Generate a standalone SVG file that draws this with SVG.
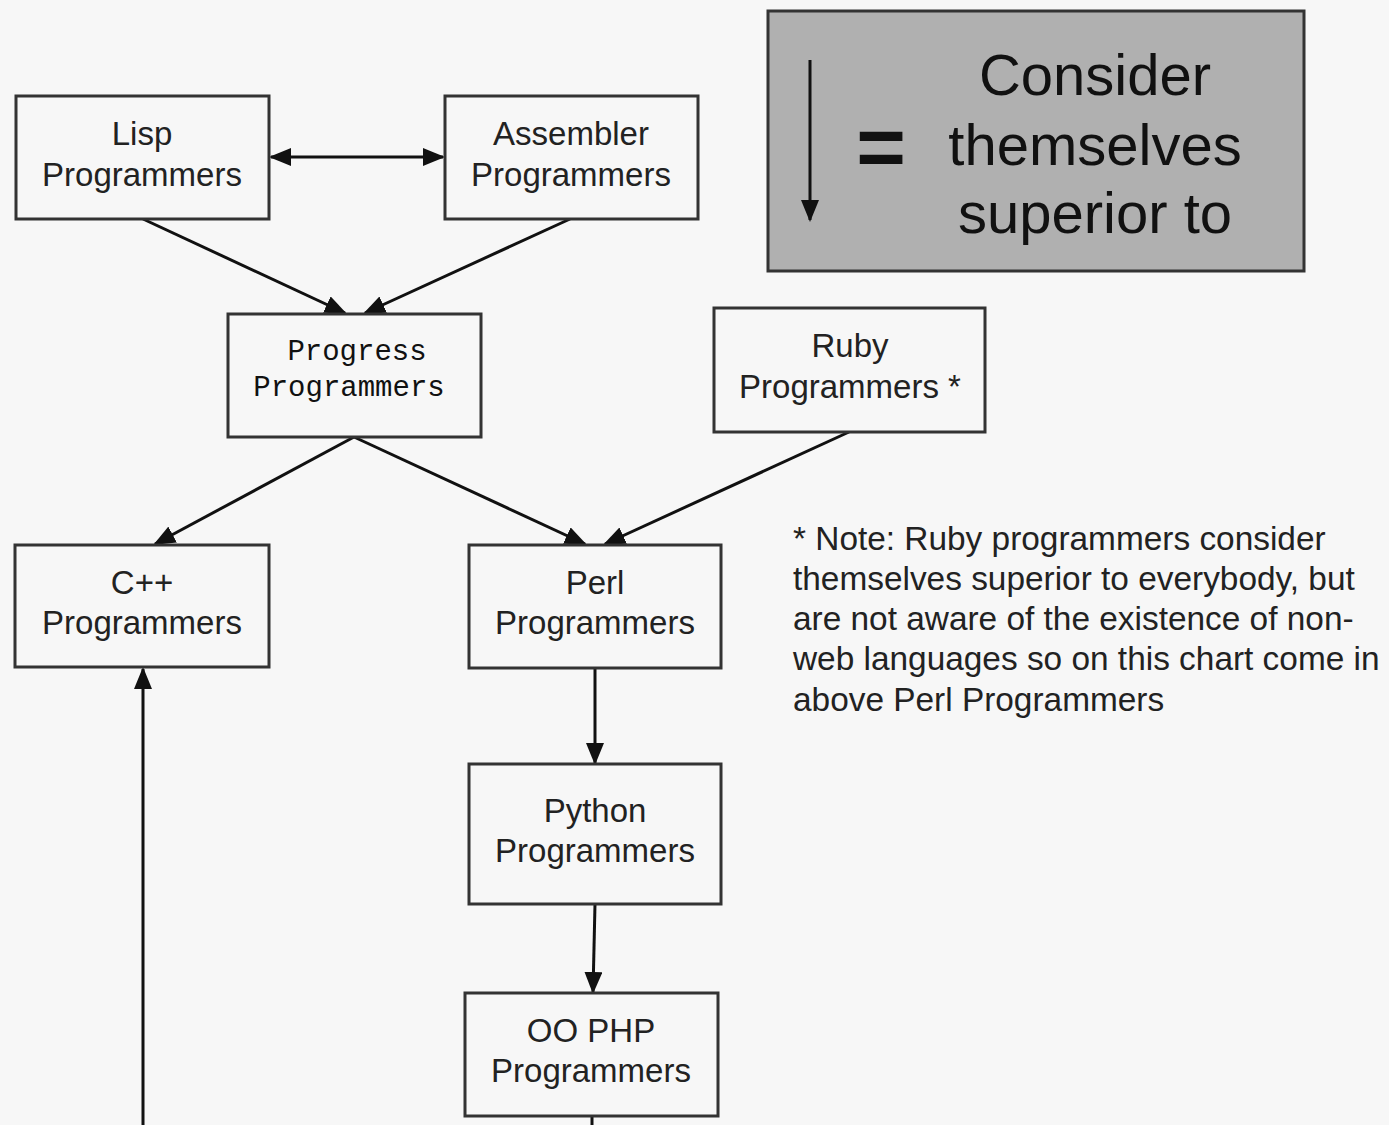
<svg xmlns="http://www.w3.org/2000/svg" width="1389" height="1125" viewBox="0 0 1389 1125">
<defs>
<marker id="ah" markerUnits="userSpaceOnUse" markerWidth="22" markerHeight="18" refX="20" refY="9" orient="auto-start-reverse">
<path d="M0,0 L22,9 L0,18 Z" fill="#111"/>
</marker>
<style>
.box{fill:#f7f7f7;stroke:#333;stroke-width:3}
.t{font-family:"Liberation Sans",Arial,sans-serif;font-size:33px;fill:#222;text-anchor:middle}
.m{font-family:"Liberation Mono","Courier New",monospace;font-size:29px;fill:#111;text-anchor:middle}
.c{fill:none;stroke:#111;stroke-width:3}
.note{font-family:"Liberation Sans",Arial,sans-serif;font-size:33.4px;fill:#222}
.leg{font-family:"Liberation Sans",Arial,sans-serif;font-size:58px;fill:#111;text-anchor:middle}
.eq{font-family:"Liberation Sans",Arial,sans-serif;font-size:85px;font-weight:bold;fill:#111;text-anchor:middle}
</style>
</defs>
<rect width="1389" height="1125" fill="#f7f7f7"/>
<g id="legend">
<rect x="768" y="11" width="536" height="260" fill="#b0b0b0" stroke="#333" stroke-width="3"/>
<line x1="810" y1="60" x2="810" y2="220" class="c" marker-end="url(#ah)"/>
<text x="881" y="176" class="eq">=</text>
<text x="1095" y="95" class="leg">Consider</text>
<text x="1095" y="165" class="leg">themselves</text>
<text x="1095" y="233" class="leg">superior to</text>
</g>
<g id="connectors">
<line x1="271" y1="157" x2="443" y2="157" class="c" marker-start="url(#ah)" marker-end="url(#ah)"/>
<line x1="143" y1="219" x2="345" y2="313" class="c" marker-end="url(#ah)"/>
<line x1="570" y1="219" x2="365" y2="313" class="c" marker-end="url(#ah)"/>
<line x1="354" y1="437" x2="155" y2="544" class="c" marker-end="url(#ah)"/>
<line x1="354" y1="437" x2="585" y2="544" class="c" marker-end="url(#ah)"/>
<line x1="849" y1="432" x2="605" y2="544" class="c" marker-end="url(#ah)"/>
<line x1="595" y1="668" x2="595" y2="763" class="c" marker-end="url(#ah)"/>
<line x1="595" y1="904" x2="593" y2="992" class="c" marker-end="url(#ah)"/>
<line x1="592" y1="1116" x2="592" y2="1125" class="c"/>
<line x1="143" y1="1125" x2="143" y2="669" class="c" marker-end="url(#ah)"/>
</g>
<g id="lisp">
<rect x="16" y="96" width="253" height="123" class="box"/>
<text x="142" y="145" class="t">Lisp</text>
<text x="142" y="186" class="t">Programmers</text>
</g>
<g id="assembler">
<rect x="445" y="96" width="253" height="123" class="box"/>
<text x="571" y="145" class="t">Assembler</text>
<text x="571" y="186" class="t">Programmers</text>
</g>
<g id="progress">
<rect x="228" y="314" width="253" height="123" class="box"/>
<text x="357" y="360" class="m">Progress</text>
<text x="349" y="396" class="m">Programmers</text>
</g>
<g id="ruby">
<rect x="714" y="308" width="271" height="124" class="box"/>
<text x="850" y="357" class="t">Ruby</text>
<text x="850" y="398" class="t">Programmers *</text>
</g>
<g id="cpp">
<rect x="15" y="545" width="254" height="122" class="box"/>
<text x="142" y="594" class="t">C++</text>
<text x="142" y="634" class="t">Programmers</text>
</g>
<g id="perl">
<rect x="469" y="545" width="252" height="123" class="box"/>
<text x="595" y="594" class="t">Perl</text>
<text x="595" y="634" class="t">Programmers</text>
</g>
<g id="python">
<rect x="469" y="764" width="252" height="140" class="box"/>
<text x="595" y="822" class="t">Python</text>
<text x="595" y="862" class="t">Programmers</text>
</g>
<g id="oophp">
<rect x="465" y="993" width="253" height="123" class="box"/>
<text x="591" y="1042" class="t">OO PHP</text>
<text x="591" y="1082" class="t">Programmers</text>
</g>
<g id="note">
<text x="793" y="550" class="note">* Note: Ruby programmers consider</text>
<text x="793" y="590" class="note">themselves superior to everybody, but</text>
<text x="793" y="630" class="note">are not aware of the existence of non-</text>
<text x="793" y="670" class="note">web languages so on this chart come in</text>
<text x="793" y="711" class="note">above Perl Programmers</text>
</g>
</svg>
